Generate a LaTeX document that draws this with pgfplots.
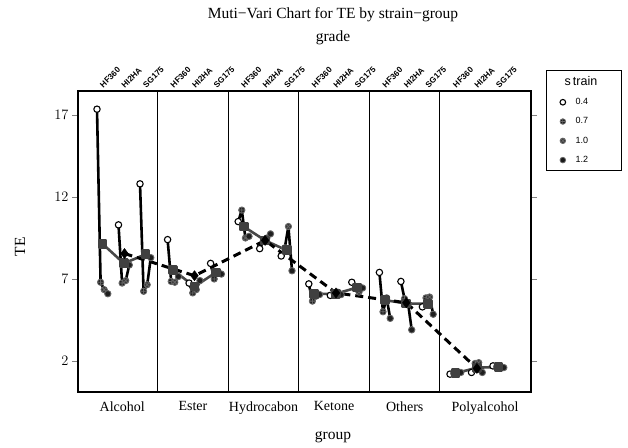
\documentclass[border=0pt]{standalone}
\usepackage{pgfplots}
\pgfplotsset{compat=1.18}
\usepackage{fontspec}
\setmainfont{Liberation Serif}
\setsansfont{Liberation Sans}
\begin{document}
\begin{tikzpicture}
\useasboundingbox (0pt,0pt) rectangle (628pt,447pt);
\pgfplotsset{
  gl/.style={black, line width=2.6pt, line join=round, forget plot, scatter, mark=*,
    point meta=explicit symbolic,
    scatter/classes={
      a={mark=*, mark size=3.2pt, line width=1.1pt, draw=black, fill=white},
      b={mark=oplus*, mark size=3.2pt, line width=0.8pt, draw=black!60, fill=black!88},
      c={mark=otimes*, mark size=3.2pt, line width=0.8pt, draw=black!60, fill=black!78},
      d={mark=*, mark size=3.2pt, line width=0.9pt, draw=black!60, fill=black!88}}},
  gm/.style={color=black!72, line width=2.6pt, line join=round, forget plot, mark=square*, mark size=3.6pt,
    mark options={solid, fill=black!75, draw=black!75}},
}
\begin{axis}[at={(78pt,55pt)}, anchor=south west, width=453pt, height=301pt, scale only axis,
  xmin=78, xmax=531, ymin=0.11, ymax=18.46,
  axis line style={line width=2pt},
  ytick={2,7,12,17}, tick align=outside, major tick length=6pt,
  y tick style={line width=0.8pt},
  yticklabel style={font=\fontsize{14}{14}\selectfont},
  xtick={122.3,192.9,263.5,334.1,404.7,485},
  xticklabels={Alcohol,Ester,Hydrocabon,Ketone,Others,Polyalcohol},
  xticklabel style={font=\fontsize{14}{14}\selectfont},
  x tick style={draw=none},
  extra x ticks={157.6,228.2,298.8,369.4,439.6}, extra x tick labels={},
  extra x tick style={grid=major, major grid style={black, line width=1.2pt}, tick style={draw=none}},
  legend style={at={(1.0331,1.0698)}, anchor=north west, draw=black, line width=0.6pt,
    font=\sffamily\fontsize{9}{10}\selectfont, row sep=7.5pt, inner xsep=8pt, inner ysep=4pt},
  legend cell align=left,
  clip=false,
]
% within-grade lines, markers by strain (a=0.4, b=0.7, c=1.0, d=1.2)
% Alcohol
\addplot[gl] coordinates {(97,17.35)[a] (100.6,6.8)[b] (104.2,6.35)[c] (107.8,6.1)[d]};
\addplot[gl] coordinates {(118.5,10.3)[a] (122.1,6.75)[b] (125.7,6.9)[c] (129.3,7.85)[d]};
\addplot[gl] coordinates {(140,12.8)[a] (143.6,6.25)[b] (147.2,6.65)[c] (150.8,8.3)[d]};
% Ester
\addplot[gl] coordinates {(167.6,9.4)[a] (171.2,6.85)[b] (174.8,6.8)[c] (178.4,7.15)[d]};
\addplot[gl] coordinates {(189.1,6.75)[a] (192.7,6.15)[b] (196.3,6.35)[c] (199.9,6.9)[d]};
\addplot[gl] coordinates {(210.6,7.95)[a] (214.2,7.0)[b] (217.8,7.35)[c] (221.4,7.3)[d]};
% Hydrocabon
\addplot[gl] coordinates {(238.2,10.5)[a] (241.8,11.2)[b] (245.4,9.5)[c] (249,9.6)[d]};
\addplot[gl] coordinates {(259.7,8.85)[a] (263.3,9.3)[b] (266.9,9.5)[c] (270.5,9.75)[d]};
\addplot[gl] coordinates {(281.2,8.4)[a] (284.8,8.9)[b] (288.4,10.2)[c] (292,7.5)[d]};
% Ketone
\addplot[gl] coordinates {(308.8,6.7)[a] (312.4,5.65)[b] (316,5.95)[c] (319.6,6.05)[d]};
\addplot[gl] coordinates {(330.3,6.0)[a] (333.9,6.15)[b] (337.5,6.2)[c] (341.1,6.05)[d]};
\addplot[gl] coordinates {(351.8,6.8)[a] (355.4,6.45)[b] (359,6.2)[c] (362.6,6.45)[d]};
% Others
\addplot[gl] coordinates {(379.4,7.4)[a] (383,5.0)[b] (386.6,5.85)[c] (390.2,4.6)[d]};
\addplot[gl] coordinates {(400.9,6.85)[a] (404.5,5.8)[b] (408.1,5.5)[c] (411.7,3.9)[d]};
\addplot[gl] coordinates {(422.4,5.3)[a] (426,5.85)[b] (429.6,5.9)[c] (433.2,4.85)[d]};
% Polyalcohol
\addplot[gl] coordinates {(450,1.2)[a] (453.6,1.25)[b] (457.2,1.25)[c] (460.8,1.3)[d]};
\addplot[gl] coordinates {(471.5,1.3)[a] (475.1,1.85)[b] (478.7,1.9)[c] (482.3,1.3)[d]};
\addplot[gl] coordinates {(493,1.7)[a] (496.6,1.65)[b] (500.2,1.6)[c] (503.8,1.6)[d]};
% grade means
\addplot[gm] coordinates {(102.4,9.15) (123.9,7.95) (145.4,8.5)};
\addplot[gm] coordinates {(173,7.55) (194.5,6.54) (216,7.4)};
\addplot[gm] coordinates {(243.6,10.2) (265.1,9.35) (286.6,8.75)};
\addplot[gm] coordinates {(314.2,6.09) (335.7,6.1) (357.2,6.48)};
\addplot[gm] coordinates {(384.8,5.71) (406.3,5.51) (427.8,5.48)};
\addplot[gm] coordinates {(455.4,1.25) (476.9,1.59) (498.4,1.64)};
% group means
\addplot[black, line width=3pt, forget plot, dash pattern=on 8pt off 5pt, mark=diamond*, mark size=5pt,
  mark options={solid, fill=black, draw=black, line width=0.5pt}]
  coordinates {(124.5,8.55) (194.5,7.2) (265.1,9.35) (336,6.15) (406.3,5.55) (476.9,1.55)};
% legend
\addlegendimage{empty legend}\addlegendentry{\hspace*{-3pt}\fontsize{12.5}{13}\selectfont s\,train}
\addlegendimage{only marks, mark=*, mark size=2.8pt, mark options={line width=1.1pt, draw=black, fill=white}}\addlegendentry{\makebox[44pt][l]{\hspace*{8pt}0.4}}
\addlegendimage{only marks, mark=oplus*, mark size=2.8pt, mark options={line width=0.7pt, draw=black!60, fill=black!90}}\addlegendentry{\makebox[44pt][l]{\hspace*{8pt}0.7}}
\addlegendimage{only marks, mark=otimes*, mark size=2.8pt, mark options={line width=0.7pt, draw=black!60, fill=black!78}}\addlegendentry{\makebox[44pt][l]{\hspace*{8pt}1.0}}
\addlegendimage{only marks, mark=*, mark size=2.8pt, mark options={line width=0.8pt, draw=black!60, fill=black!90}}\addlegendentry{\makebox[44pt][l]{\hspace*{8pt}1.2}}
\end{axis}
\begin{axis}[at={(78pt,55pt)}, anchor=south west, width=453pt, height=301pt, scale only axis,
  xmin=78, xmax=531, ymin=0.11, ymax=18.46,
  axis x line*=top, axis y line=none, axis line style={draw=none},
  major tick length=0pt,
  xtick={102.4,123.9,145.4,173,194.5,216,243.6,265.1,286.6,314.2,335.7,357.2,384.8,406.3,427.8,455.4,476.9,498.4},
  xticklabels={HF360,HI2HA,SG175,HF360,HI2HA,SG175,HF360,HI2HA,SG175,HF360,HI2HA,SG175,HF360,HI2HA,SG175,HF360,HI2HA,SG175},
  xticklabel style={rotate=45, anchor=south west, inner sep=1pt, xshift=1.5pt, font=\sffamily\bfseries\fontsize{8.2}{8.5}\selectfont},
]
\end{axis}
\node[font=\fontsize{15.5}{16}\selectfont] at (333pt,432pt) {Muti−Vari Chart for TE by strain−group};
\node[font=\fontsize{15.5}{16}\selectfont] at (333pt,409pt) {grade};
\node[font=\fontsize{15.5}{16}\selectfont] at (333pt,10pt) {group};
\node[font=\fontsize{15.5}{16}\selectfont, rotate=90] at (20pt,200pt) {TE};
\end{tikzpicture}
\end{document}
